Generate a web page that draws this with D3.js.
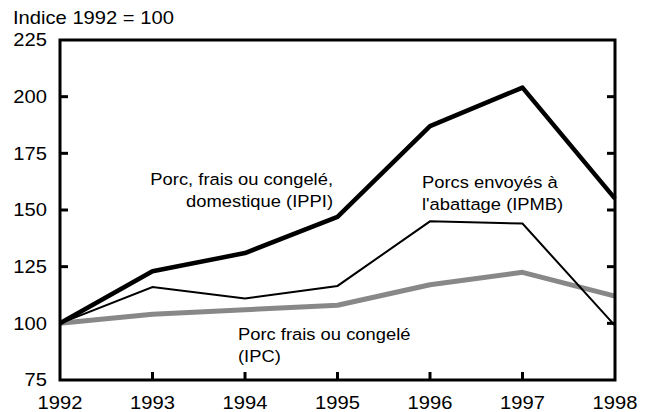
<!DOCTYPE html>
<html><head><meta charset="utf-8">
<script src="https://cdn.jsdelivr.net/npm/d3@7"></script>
<style>
body{margin:0;background:#fff;}
text{font-family:"Liberation Sans",Arial,sans-serif;fill:#000;}
</style></head>
<body><svg id="c" width="650" height="412"></svg>
<script>
const years = [1992,1993,1994,1995,1996,1997,1998];
const ippi = [100,123,131,147,187,204,155];
const ipmb = [100,116,111,116.5,145,144,99];
const ipc  = [100,104,106,108,117,122.5,112];
const yTicks = [75,100,125,150,175,200,225];
const yTitle = "Indice 1992 = 100";
const labelIPPI = ["Porc, frais ou congelé,","domestique (IPPI)"];
const labelIPMB = ["Porcs envoyés à","l'abattage (IPMB)"];
const labelIPC = ["Porc frais ou congelé","(IPC)"];

const svg = d3.select("#c");
const L=60,R=615,T=40,B=380;
const x = d3.scaleLinear().domain([1992,1998]).range([L,R]);
const y = d3.scaleLinear().domain([75,225]).range([B,T]);
const fs = 18, sx = 1.12;

svg.append("g").selectAll("text").data(yTicks).join("text")
  .attr("transform",d=>`translate(${L-13},${y(d)}) scale(${sx},1)`).attr("dy","0.36em")
  .attr("text-anchor","end").attr("font-size",fs).text(d=>d);
svg.append("g").selectAll("text").data(years).join("text")
  .attr("transform",d=>`translate(${x(d)},409) scale(${sx},1)`)
  .attr("text-anchor","middle").attr("font-size",fs).text(d=>d);
svg.append("text").attr("transform",`translate(13,24) scale(${sx},1)`).attr("font-size",fs).text(yTitle);

const tk = svg.append("g").attr("stroke","#000").attr("stroke-width",3);
yTicks.slice(1,-1).forEach(v=>{
  tk.append("line").attr("x1",L).attr("x2",L+8).attr("y1",y(v)).attr("y2",y(v));
  tk.append("line").attr("x1",R).attr("x2",R-8).attr("y1",y(v)).attr("y2",y(v));
});
years.slice(1,-1).forEach(v=>{
  tk.append("line").attr("x1",x(v)).attr("x2",x(v)).attr("y1",B).attr("y2",B-8);
});

const line = d3.line().x((d,i)=>x(years[i])).y(d=>y(d));
svg.append("path").datum(ipc).attr("d",line).attr("fill","none")
  .attr("stroke","#888").attr("stroke-width",5).attr("stroke-linejoin","round");
svg.append("path").datum(ipmb).attr("d",line).attr("fill","none")
  .attr("stroke","#000").attr("stroke-width",2);
svg.append("path").datum(ippi).attr("d",line).attr("fill","none")
  .attr("stroke","#000").attr("stroke-width",4.5).attr("stroke-linejoin","round");

svg.append("rect").attr("x",L).attr("y",T).attr("width",R-L).attr("height",B-T)
  .attr("fill","none").attr("stroke","#000").attr("stroke-width",3);

function lbl(lines,xx,yy,anchor){
  const g=svg.append("g").attr("transform",`translate(${xx},${yy}) scale(1.08,1)`);
  const t=g.append("text").attr("font-size",17).attr("text-anchor",anchor);
  lines.forEach((s,i)=>t.append("tspan").attr("x",0).attr("y",i*22).text(s));
}
lbl(labelIPPI,333,185,"end");
lbl(labelIPMB,422,188,"start");
lbl(labelIPC,238,340,"start");
</script></body></html>
